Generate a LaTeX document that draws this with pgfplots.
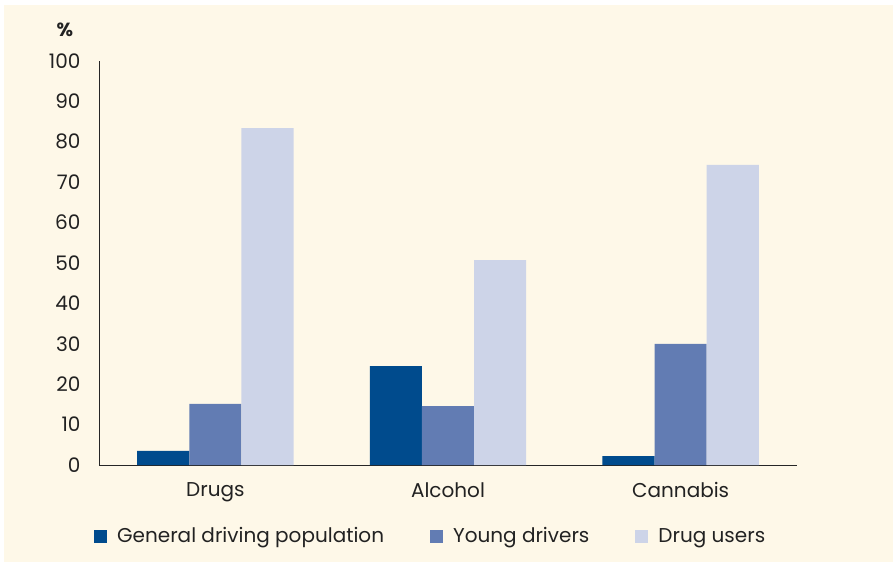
\documentclass[border=0pt]{standalone}
\usepackage{fontspec}
\setmainfont{Poppins}
\usepackage{pgfplots}
\pgfplotsset{compat=1.18}
\definecolor{bg}{HTML}{FEF8E8}
\definecolor{cA}{HTML}{004B8D}
\definecolor{cB}{HTML}{627CB3}
\definecolor{cC}{HTML}{CDD4E8}
\definecolor{txt}{HTML}{222222}
\begin{document}
\begin{tikzpicture}
\fill[white] (0pt,0pt) rectangle (893pt,562pt);
\useasboundingbox (0pt,0pt) rectangle (893pt,562pt);
\fill[bg] (4pt,0pt) rectangle (893pt,557pt);
\begin{axis}[
  at={(99pt,97pt)}, anchor=south west,
  scale only axis, width=698pt, height=404pt,
  xmin=-0.5, xmax=2.5, ymin=0, ymax=100,
  ybar=0pt, bar width=0.224,
  axis x line=bottom, axis y line=left,
  axis line style={black!85, line width=1pt, -},
  x axis line style={-}, y axis line style={-},
  xtick={0,1,2}, xticklabels={Drugs,Alcohol,Cannabis},
  ytick={0,10,...,100},
  major tick length=0pt,
  tick label style={font=\fontsize{20}{24}\selectfont, text=txt},
  yticklabel style={anchor=east, xshift=-15pt},
  xticklabel style={yshift=-14pt},
  /pgf/number format/assume math mode=true,
  legend style={at={(axis description cs:-0.007,-0.176)}, anchor=west, draw=none, fill=none,
    inner sep=0pt, outer sep=0pt,
    font=\fontsize{20}{24}\selectfont, text=txt, legend columns=3,
    /tikz/every odd column/.append style={column sep=8pt},
    /tikz/every even column/.append style={column sep=44pt}},
  legend image code/.code={\fill[#1] (0pt,-6.5pt) rectangle (13pt,6.5pt);},
  clip=false,
]
\addplot[fill=cA, draw=none] coordinates {(0,3.5) (1,24.5) (2,2.2)};
\addplot[fill=cB, draw=none] coordinates {(0,15.1) (1,14.6) (2,30.0)};
\addplot[fill=cC, draw=none] coordinates {(0,83.4) (1,50.7) (2,74.3)};
\legend{General driving population, Young drivers, Drug users}
\end{axis}
\node[font=\fontsize{19}{22}\selectfont\bfseries, text=txt] at (65pt,532pt) {\%};
\end{tikzpicture}
\end{document}
